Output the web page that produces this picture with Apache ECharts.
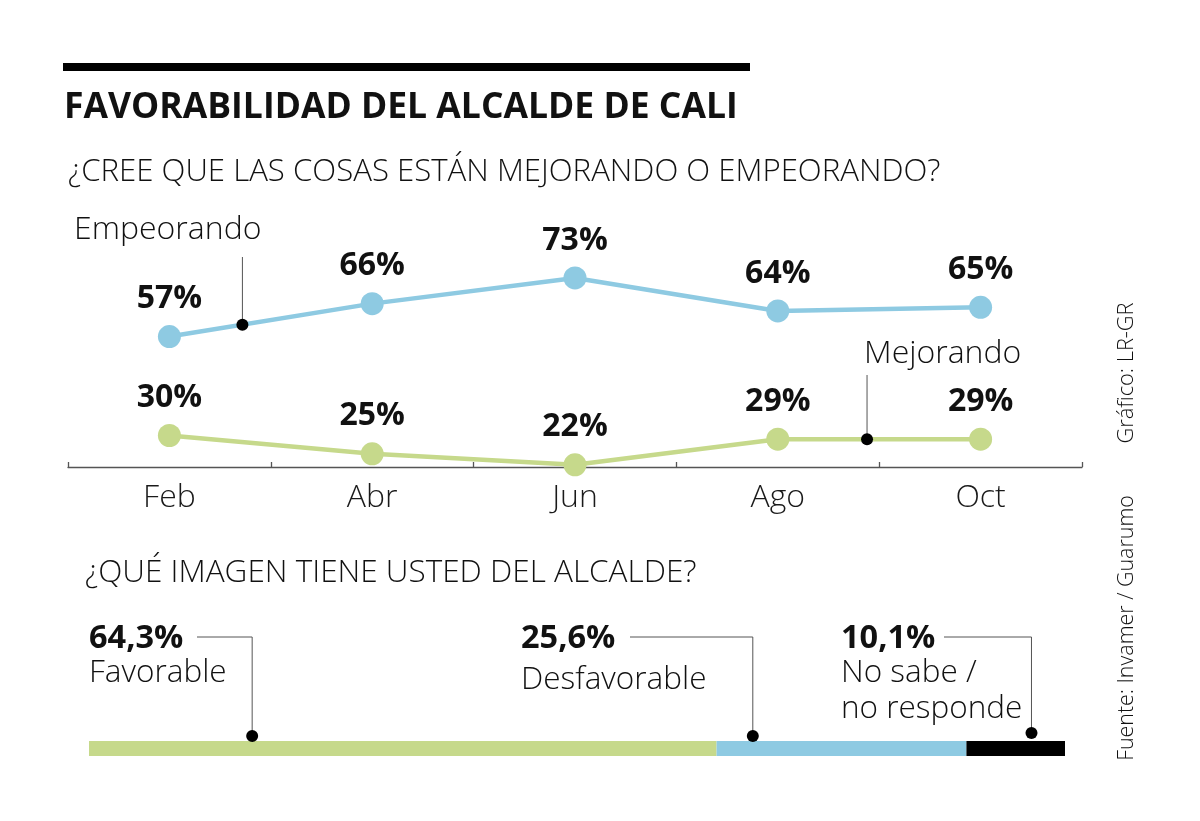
<!DOCTYPE html>
<html>
<head>
<meta charset="utf-8">
<script src="https://cdn.jsdelivr.net/npm/echarts@6/dist/echarts.min.js"></script>
<style>
  html, body { margin: 0; background: #fff; }
  #chart { width: 1200px; height: 821px; }
</style>
</head>
<body>
<div id="chart"></div>
<script>
// data
const months = ["Feb", "Abr", "Jun", "Ago", "Oct"];
const empeorando = [57, 66, 73, 64, 65];
const mejorando = [30, 25, 22, 29, 29];
const imagenLabels = ["Favorable", "Desfavorable", "No sabe /\nno responde"];
const imagenValues = [64.3, 25.6, 10.1];

const FONT = '"Open Sans", sans-serif';
const BLUE = "#8ecae2";
const GREEN = "#c6d98b";
const INK = "#111";
const LEAD = "#555";

const chart = echarts.init(document.getElementById("chart"));

function txt(x, y, text, size, weight, extra) {
  return Object.assign({
    type: "text", x: x, y: y, silent: true, z: 100,
    style: {
      text: text, fontSize: size, fontWeight: weight, fontFamily: FONT,
      fill: INK, align: "left", verticalAlign: "middle"
    }
  }, extra || {});
}

function vtxt(x, y, text, size) {
  return {
    type: "text", x: x, y: y, rotation: Math.PI / 2, silent: true, z: 100,
    style: {
      text: text, fontSize: size, fontWeight: 300, fontFamily: FONT,
      fill: INK, align: "center", verticalAlign: "middle"
    }
  };
}

const pct = (v) => v.toFixed(1).replace(".", ",") + "%";

const pointLabel = {
  show: true, position: "top", distance: 10, formatter: "{c}%",
  fontSize: 32, fontWeight: "bold", fontFamily: FONT, color: INK
};

chart.setOption({
  animation: false,
  grid: [
    { left: 68, right: 118, top: 230, bottom: 354 },
    { left: 89, right: 135, top: 741, height: 15 }
  ],
  xAxis: [
    {
      gridIndex: 0, type: "category", data: months, boundaryGap: true,
      axisLine: { show: true, lineStyle: { color: "#555", width: 1.3 } },
      axisTick: { show: true, interval: 0, alignWithLabel: false, inside: true, length: 5, lineStyle: { color: "#555", width: 1.3 } },
      axisLabel: { fontSize: 32, fontWeight: 300, fontFamily: FONT, color: "#1a1a1a", margin: 15 }
    },
    { gridIndex: 1, type: "value", min: 0, max: 100, show: false }
  ],
  yAxis: [
    { gridIndex: 0, type: "value", min: 21.4, max: 86.1, show: false },
    { gridIndex: 1, type: "category", data: ["imagen"], show: false }
  ],
  series: [
    {
      name: "Empeorando", type: "line", data: empeorando,
      color: BLUE, lineStyle: { width: 4.5 },
      symbol: "circle", symbolSize: 23, label: pointLabel
    },
    {
      name: "Mejorando", type: "line", data: mejorando,
      color: GREEN, lineStyle: { width: 4.5 },
      symbol: "circle", symbolSize: 23, label: pointLabel
    }
  ].concat(imagenValues.map((v, i) => ({
    name: imagenLabels[i], type: "bar", stack: "imagen",
    xAxisIndex: 1, yAxisIndex: 1, data: [v], barWidth: 15,
    itemStyle: { color: [GREEN, BLUE, "#000"][i] }
  })))
});

// callouts on the lines: point on a segment, leader goes up to the label
const lineCallouts = [
  { series: 0, data: empeorando, from: 0, t: 0.36, lineTop: 257 },
  { series: 1, data: mejorando, from: 3, t: 0.44, lineTop: 375 }
];
// callouts on the bar
const barCallouts = [
  { x: 89, t: 0.26, lineStart: 197, dotY: 736 },
  { x: 521, t: 0.145, lineStart: 630, dotY: 736 },
  { x: 841, t: 0.66, lineStart: 944, dotY: 733 }
];

const g = [
  { type: "rect", shape: { x: 63, y: 63, width: 687, height: 8 }, style: { fill: "#000" } },
  txt(64, 108, "FAVORABILIDAD DEL ALCALDE DE CALI", 35.5, "bold"),
  txt(68, 172, "¿CREE QUE LAS COSAS ESTÁN MEJORANDO O EMPEORANDO?", 31.2, 300),
  txt(85, 573, "¿QUÉ IMAGEN TIENE USTED DEL ALCALDE?", 31.5, 300),
  txt(74, 230, "Empeorando", 32, 300),
  txt(864, 354, "Mejorando", 32, 300),
  vtxt(1127, 373, "Gráfico: LR-GR", 21.8),
  vtxt(1127, 628, "Fuente: Invamer / Guarumo", 21.4)
];

lineCallouts.forEach((c) => {
  const a = chart.convertToPixel({ seriesIndex: c.series }, [c.from, c.data[c.from]]);
  const b = chart.convertToPixel({ seriesIndex: c.series }, [c.from + 1, c.data[c.from + 1]]);
  const x = a[0] + (b[0] - a[0]) * c.t;
  const y = a[1] + (b[1] - a[1]) * c.t;
  g.push({ type: "line", z: 100, shape: { x1: x, y1: c.lineTop, x2: x, y2: y }, style: { stroke: LEAD, lineWidth: 1 } });
  g.push({ type: "circle", z: 101, shape: { cx: x, cy: y, r: 6 }, style: { fill: "#000" } });
});

let acc = 0;
barCallouts.forEach((c, i) => {
  const v = imagenValues[i];
  const ax = chart.convertToPixel({ xAxisIndex: 1 }, acc + v * c.t);
  acc += v;
  g.push(txt(c.x, 639, pct(v), 32.5, "bold"));
  imagenLabels[i].split("\n").forEach((line, k) => {
    g.push(txt(c.x, (i === 1 ? 680 : 673) + k * 36, line, 31.5, 300));
  });
  g.push({
    type: "polyline", z: 100,
    shape: { points: [[c.lineStart, 637], [ax, 637], [ax, c.dotY]] },
    style: { stroke: LEAD, lineWidth: 1, fill: null }
  });
  g.push({ type: "circle", z: 101, shape: { cx: ax, cy: c.dotY, r: 6 }, style: { fill: "#000" } });
});

chart.setOption({ graphic: g });
</script>
</body>
</html>
